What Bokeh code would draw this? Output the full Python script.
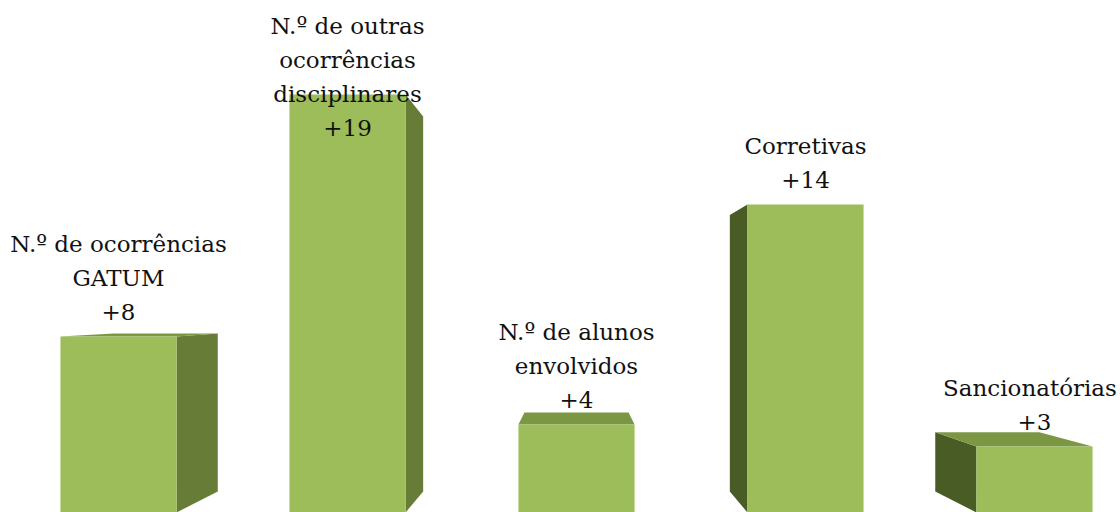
from bokeh.plotting import figure
from bokeh.models import ColumnDataSource, Range1d
from bokeh.embed import file_html
from bokeh.resources import INLINE
from bokeh.core.properties import value

# ---- data ----
categories = [
    "N.º de ocorrências\nGATUM",
    "N.º de outras\nocorrências\ndisciplinares",
    "N.º de alunos\nenvolvidos",
    "Corretivas",
    "Sancionatórias",
]
values = [8, 19, 4, 14, 3]
value_labels = ["+8", "+19", "+4", "+14", "+3"]

# ---- layout / style constants ----
W, H = 1120, 512
X0, X1 = -118 / 229, (1120 - 118) / 229
Y0, Y1 = 0.0, 512 / 22
BAR_W = 0.507           # front-face width (category units)
VP_X, VP_Y = 2.0, 9.32  # vanishing point (data units)
DEPTH = 0.897           # back-face scale toward vanishing point
FONT = "DejaVu Serif"
FONT_PX = 23
PX_X = (X1 - X0) / W
PX_Y = (Y1 - Y0) / H
LINE_GAP = 34 * PX_Y
VALUE_GAP = 25 * PX_Y

FRONT = "#9dbd5a"
RIGHT_SIDE = "#677c36"
LEFT_SIDE = "#495c25"
TOP = "#7c9743"


def back(x, y):
    return VP_X + DEPTH * (x - VP_X), VP_Y + DEPTH * (y - VP_Y)


fx, fy, sx, sy, sc, tx, ty = [], [], [], [], [], [], []
for i, v in enumerate(values):
    xl, xr = i - BAR_W / 2, i + BAR_W / 2
    fx.append([xl, xr, xr, xl])
    fy.append([0, 0, v, v])
    if i != VP_X:
        xe = xr if i < VP_X else xl
        bx0, by0 = back(xe, 0)
        bx1, by1 = back(xe, v)
        sx.append([xe, xe, bx1, bx0])
        sy.append([0, v, by1, by0])
        sc.append(RIGHT_SIDE if i < VP_X else LEFT_SIDE)
    if v < VP_Y:
        blx, bly = back(xl, v)
        brx, bry = back(xr, v)
        tx.append([xl, xr, brx, blx])
        ty.append([v, v, bry, bly])

p = figure(width=W, height=H, x_range=Range1d(X0, X1), y_range=Range1d(Y0, Y1),
           output_backend="svg", toolbar_location=None, min_border=0,
           x_axis_location=None, y_axis_location=None)
p.grid.visible = False
p.outline_line_color = None
p.background_fill_color = "white"
p.border_fill_color = "white"

p.patches(xs=sx, ys=sy, fill_color=sc, line_color=None)
p.patches(xs=tx, ys=ty, fill_color=TOP, line_color=None)
p.patches(xs=fx, ys=fy, fill_color=FRONT, line_color=None)

# labels
lx, ly, lt = [], [], []
for i, (cat, v, vl) in enumerate(zip(categories, values, value_labels)):
    lines = cat.split("\n") + [vl]
    n = len(lines)
    base = v + VALUE_GAP
    top_limit = Y1 - 25 * PX_Y
    if base + (n - 1) * LINE_GAP > top_limit:
        base = top_limit - (n - 1) * LINE_GAP
    for j, line in enumerate(lines):
        half_w = len(line) * 0.55 * FONT_PX / 2 * PX_X
        cx = min(max(i, X0 + half_w + 2 * PX_X), X1 - half_w - 2 * PX_X)
        lx.append(cx)
        ly.append(base + (n - 1 - j) * LINE_GAP)
        lt.append(line)

src = ColumnDataSource(dict(x=lx, y=ly, t=lt))
p.text(x="x", y="y", text="t", source=src, text_align="center", text_baseline="middle",
       text_font=value(FONT), text_font_size=f"{FONT_PX}px", text_color="#111111")

open("out.html", "w").write(file_html(p, INLINE))
